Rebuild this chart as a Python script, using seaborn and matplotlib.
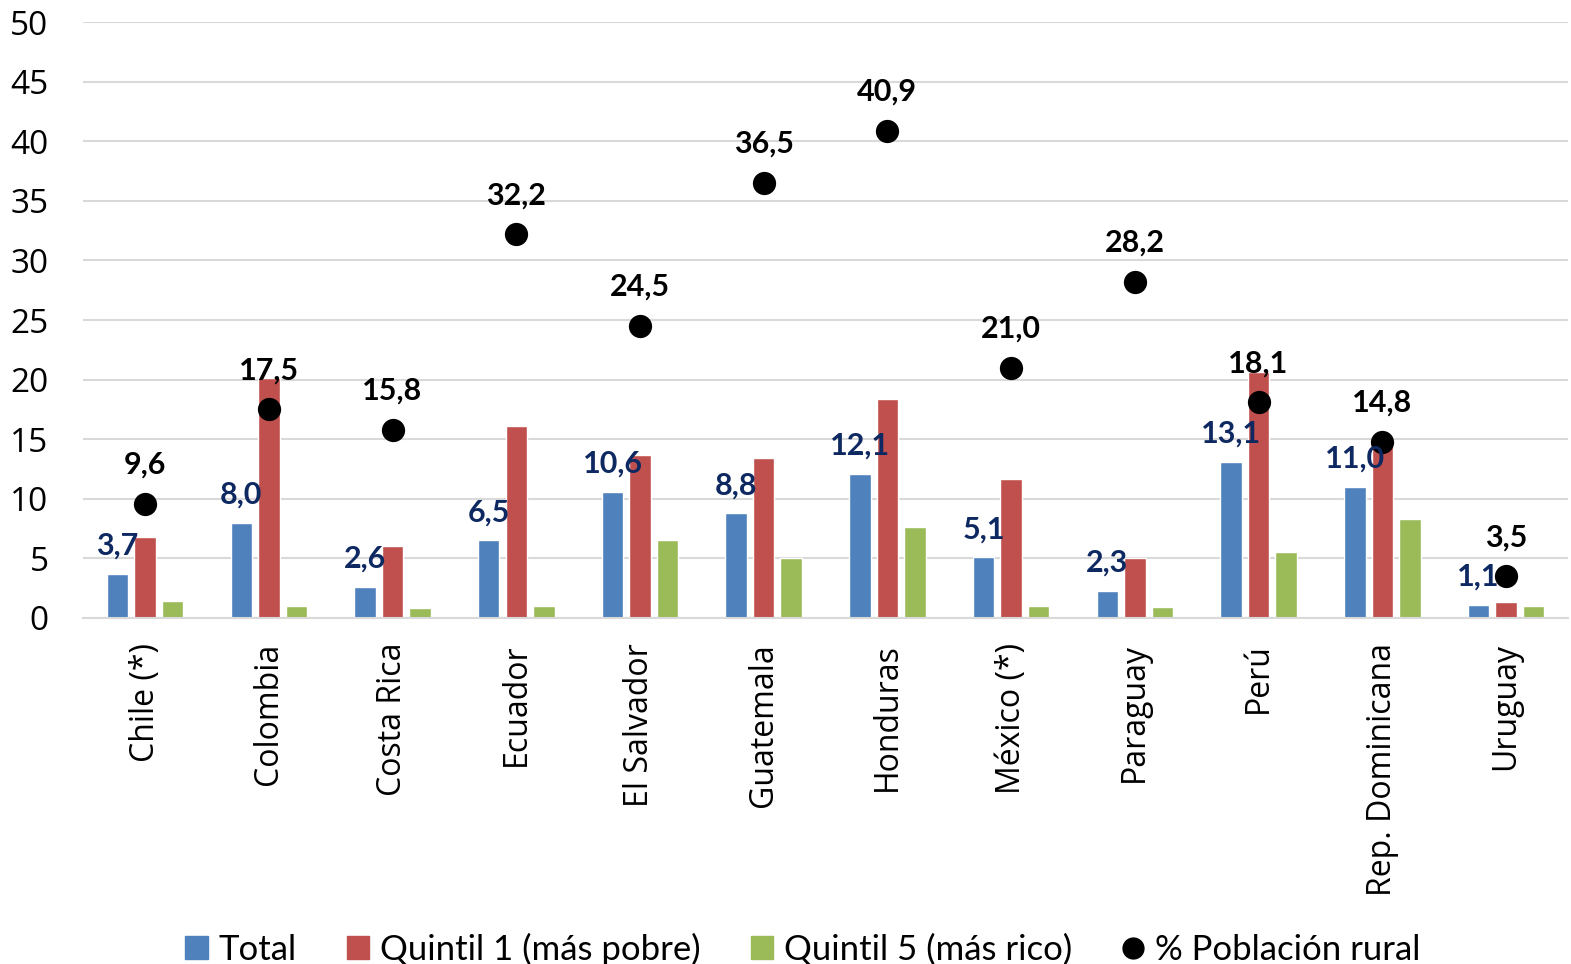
import pandas as pd
import seaborn as sns
import matplotlib.pyplot as plt
from matplotlib.lines import Line2D
from matplotlib.patches import Patch

paises = ['Chile (*)', 'Colombia', 'Costa Rica', 'Ecuador', 'El Salvador', 'Guatemala',
          'Honduras', 'México (*)', 'Paraguay', 'Perú', 'Rep. Dominicana', 'Uruguay']
total = [3.7, 8.0, 2.6, 6.5, 10.6, 8.8, 12.1, 5.1, 2.3, 13.1, 11.0, 1.1]
quintil1 = [6.8, 20.1, 6.0, 16.1, 13.7, 13.4, 18.4, 11.7, 5.0, 20.6, 15.0, 1.3]
quintil5 = [1.4, 1.0, 0.8, 1.0, 6.5, 5.0, 7.6, 1.0, 0.9, 5.5, 8.3, 1.0]
rural = [9.6, 17.5, 15.8, 32.2, 24.5, 36.5, 40.9, 21.0, 28.2, 18.1, 14.8, 3.5]

series = ['Total', 'Quintil 1 (más pobre)', 'Quintil 5 (más rico)']
colores = ['#4F81BD', '#C0504D', '#9BBB59']

df = pd.DataFrame({
    'pais': paises * 3,
    'serie': [series[0]] * 12 + [series[1]] * 12 + [series[2]] * 12,
    'valor': total + quintil1 + quintil5,
})

sns.set_style('whitegrid')
plt.rcParams['font.family'] = ['Open Sans', 'DejaVu Sans']
narrow = ['Lato', 'DejaVu Sans']

fig = plt.figure(figsize=(15.71, 9.64), dpi=100)
ax = fig.add_axes([0.053, 0.359, 0.945, 0.618])

sns.barplot(data=df, x='pais', y='valor', hue='serie', order=paises, hue_order=series,
            palette=colores, width=0.667, gap=0.22, saturation=1, legend=False, ax=ax)
sns.scatterplot(x=paises, y=rural, color='black', s=280, linewidth=0, zorder=5, ax=ax,
                legend=False)

for i, v in enumerate(total):
    ax.annotate(f'{v:.1f}'.replace('.', ','), (i - 0.222, v), xytext=(0, 10),
                textcoords='offset points', ha='center', va='bottom',
                fontsize=22, fontweight='bold', color='#0E2861', family=narrow, zorder=6)
for i, v in enumerate(rural):
    ax.annotate(f'{v:.1f}'.replace('.', ','), (i, v), xytext=(0, 18),
                textcoords='offset points', ha='center', va='bottom',
                fontsize=22, fontweight='bold', color='black', family=narrow, zorder=6)

ax.set_xlim(-0.5, 11.5)
ax.set_ylim(0, 50)
ax.set_yticks(range(0, 51, 5))
ax.set_xlabel(None)
ax.set_ylabel(None)
ax.tick_params(axis='x', labelrotation=90, labelsize=23, length=0, pad=18, labelcolor='black')
ax.tick_params(axis='y', labelsize=24, length=0, pad=25, labelcolor='black')
ax.grid(axis='x', visible=False)
ax.grid(axis='y', color='#D9D9D9', linewidth=1.5)
for s in ['top', 'right', 'left']:
    ax.spines[s].set_visible(False)
ax.spines['bottom'].set_color('#D9D9D9')
ax.spines['bottom'].set_linewidth(1.5)

handles = [Patch(color=c, label=l) for c, l in zip(colores, series)]
handles.append(Line2D([], [], marker='o', color='black', linestyle='', markersize=15,
                      label='% Población rural'))
leg = fig.legend(handles=handles, loc='lower center', bbox_to_anchor=(0.511, -0.034), ncol=4,
                 frameon=False, handlelength=0.65, handleheight=0.65, handletextpad=0.3,
                 columnspacing=1.45, prop={'family': narrow, 'size': 25})
for t in leg.get_texts():
    t.set_color('black')

plt.savefig('out.png', dpi=100)
